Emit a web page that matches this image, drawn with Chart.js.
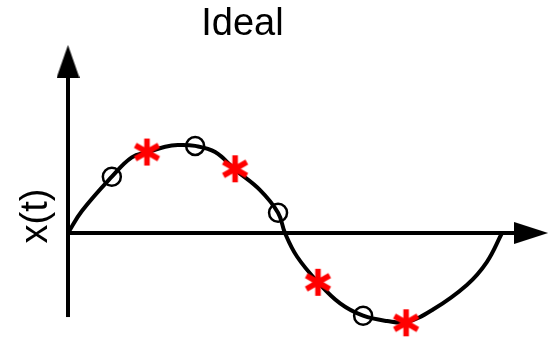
<!DOCTYPE html>
<html><head><meta charset="utf-8">
<script src="https://cdn.jsdelivr.net/npm/chart.js@4"></script>
<style>html,body{margin:0;padding:0;background:#fff;overflow:hidden}</style>
</head><body>
<canvas id="c" width="556" height="339"></canvas>
<script>
// ---- data (t: fraction of one period, x(t): amplitude units) ----
const titleText = 'Ideal';
const yLabel = 'x(t)';
const curveT = [0, 0.032, 0.101, 0.147, 0.184, 0.224, 0.253, 0.293, 0.339, 0.385, 0.442, 0.484, 0.5, 0.528, 0.576, 0.627, 0.68, 0.735, 0.781, 0.841, 0.919, 0.965, 1.0];
const curveX = [0, 0.25, 0.64, 0.86, 0.92, 0.98, 1.0, 0.99, 0.92, 0.72, 0.49, 0.23, 0, -0.27, -0.56, -0.8, -0.94, -1.0, -1.01, -0.87, -0.59, -0.33, 0];
const circleT = [0.101, 0.293, 0.484, 0.680];
const circleX = [0.64, 0.99, 0.23, -0.94];
const starT = [0.182, 0.385, 0.576, 0.779];
const starX = [0.92, 0.73, -0.56, -1.02];
// axis arrows (in data units)
const yAxisSpan = [-0.955, 1.77];
const yArrowAt = 1.949;
const xAxisSpan = [0, 1.028];
const xArrowAt = 1.067;

// ---- layout ----
const W = 556, H = 339;
const shiftLeft = 71;            // title centred over x = (556 - 71) / 2
const yScaleWidth = 131, areaTop = 93;
const areaLeft = yScaleWidth - shiftLeft;
const originPx = {x: 68, y: 233};
const pxPerT = 434, pxPerX = 88;
const xMin = -(originPx.x - areaLeft) / pxPerT;
const xMax = xMin + (W - areaLeft) / pxPerT;
const yMax = (originPx.y - areaTop) / pxPerX;
const yMin = yMax - (H - areaTop) / pxPerX;

const FONT = "'Liberation Sans', Arial, Helvetica, sans-serif";

function arrowImg(w, h, dir) {
  const c = document.createElement('canvas');
  c.width = w; c.height = h;
  const g = c.getContext('2d');
  g.fillStyle = '#000';
  g.beginPath();
  if (dir === 'up') { g.moveTo(w / 2, 0); g.lineTo(w, h); g.lineTo(0, h); }
  else { g.moveTo(w, h / 2); g.lineTo(0, h); g.lineTo(0, 0); }
  g.closePath(); g.fill();
  return c;
}
function asteriskImg(r, lw, color) {
  const s = Math.ceil(2 * r + lw + 2);
  const c = document.createElement('canvas');
  c.width = s; c.height = s;
  const g = c.getContext('2d');
  g.strokeStyle = color; g.lineWidth = lw; g.lineCap = 'butt';
  g.beginPath();
  for (let k = 0; k < 3; k++) {
    const a = Math.PI / 2 + k * Math.PI / 3;
    g.moveTo(s / 2 + r * Math.cos(a), s / 2 - r * Math.sin(a));
    g.lineTo(s / 2 - r * Math.cos(a), s / 2 + r * Math.sin(a));
  }
  g.stroke();
  return c;
}
const upArrow = arrowImg(23, 33, 'up');
const rightArrow = arrowImg(34, 22, 'right');
const redStar = asteriskImg(13.5, 5.5, '#ff0000');

const zip = (a, b) => a.map((v, i) => ({x: v, y: b[i]}));

new Chart(document.getElementById('c'), {
  type: 'scatter',
  data: {
    datasets: [
      { label: 'star', data: zip(starT, starX), pointStyle: redStar, pointRadius: 13,
        pointBorderWidth: 0, showLine: false, clip: false },
      { label: 'circle', data: zip(circleT, circleX), pointStyle: 'circle', pointRadius: 9,
        pointBorderWidth: 2.5, pointBorderColor: '#000', pointBackgroundColor: 'transparent', showLine: false, clip: false },
      { label: 'x(t)', data: zip(curveT, curveX), showLine: true, borderColor: '#000', borderWidth: 4,
        pointRadius: 0, tension: 0.4, clip: false },
      { label: 'yaxis', data: [{x: 0, y: yAxisSpan[0]}, {x: 0, y: yAxisSpan[1]}], showLine: true,
        borderColor: '#000', borderWidth: 4, pointRadius: 0, clip: false },
      { label: 'xaxis', data: [{x: xAxisSpan[0], y: 0}, {x: xAxisSpan[1], y: 0}], showLine: true,
        borderColor: '#000', borderWidth: 4, pointRadius: 0, clip: false },
      { label: 'arrows', data: [{x: 0, y: yArrowAt}, {x: xArrowAt, y: 0}], showLine: false,
        pointStyle: [upArrow, rightArrow], pointRadius: 100, pointBorderWidth: 0, clip: false }
    ]
  },
  options: {
    responsive: false,
    animation: false,
    events: [],
    devicePixelRatio: 1,
    layout: { autoPadding: false, padding: { left: -shiftLeft, right: 0, top: 0, bottom: 0 } },
    plugins: {
      legend: { display: false },
      tooltip: { enabled: false },
      title: { display: true, text: titleText, color: '#000',
        font: { family: FONT, size: 38, weight: 'normal', lineHeight: 1.2 },
        padding: { top: 2, bottom: areaTop - 2 - 38 * 1.2 } }
    },
    scales: {
      x: { type: 'linear', min: xMin, max: xMax, display: false },
      y: { type: 'linear', min: yMin, max: yMax, display: true,
        grid: { display: false, drawTicks: false }, border: { display: false },
        ticks: { display: false },
        title: { display: true, text: yLabel, color: '#000',
          font: { family: FONT, size: 38, weight: 'normal', lineHeight: 1.2 },
          padding: { top: 14 + shiftLeft, bottom: 0 } },
        afterFit: (s) => { s.width = yScaleWidth; } }
    }
  }
});
</script>
</body></html>
